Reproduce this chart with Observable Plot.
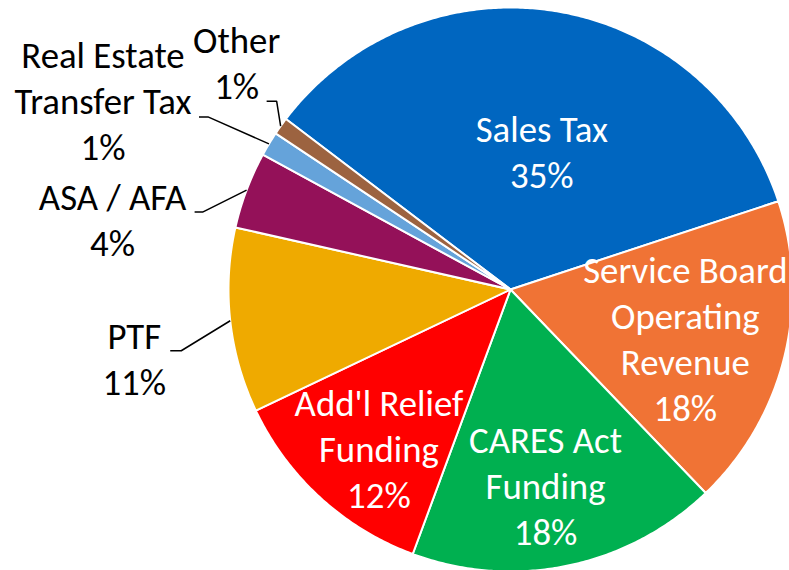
<!DOCTYPE html>
<html>
<head>
<meta charset="utf-8">
<script src="https://cdn.jsdelivr.net/npm/d3@7"></script>
<script src="https://cdn.jsdelivr.net/npm/@observablehq/plot@0.6"></script>
<style>
  html, body { margin: 0; padding: 0; background: #fff; }
  #chart { width: 789px; height: 570px; overflow: hidden; }
</style>
</head>
<body>
<div id="chart"></div>
<script>
// ---- data ----
const names = ["Sales Tax", "Service Board\nOperating\nRevenue", "CARES Act\nFunding", "Add'l Relief\nFunding", "PTF", "ASA / AFA", "Real Estate\nTransfer Tax", "Other"];
const shares = [34.6, 17.9, 17.8, 12.3, 10.6, 4.4, 1.4, 1.0];
const colors = ["#0066C0", "#F07335", "#00B050", "#FF0000", "#EFAA00", "#941159", "#65A3DA", "#9C6340"];

// ---- layout ----
const W = 789, H = 570, cx = 510, cy = 289, R = 282, startAngle = 307.2;
const FONT = 36.8, LH = 46;
const insideR = [0.495, 0.646, 0.711, 0.738];   // inside label radius fraction
const insideTurn = [3.5, 2.3, 1.7, -3.2];        // inside label angle nudge (deg)
// outside callouts: [label dx, label dy from edge point, leader y offset from label centre, leader start x offset, leader length]
const callout = {
  4: [-96, 37, -7, 36, 11],
  5: [-134, 28, -6, 82, 8],
  6: [-166, -45, 18, 96, 9],
  7: [-44, -65, 40, 30, 10]
};

const rad = a => a * Math.PI / 180;
const pt = (a, r) => [cx + r * Math.sin(rad(a)), cy - r * Math.cos(rad(a))];
const total = d3.sum(shares);
let acc = startAngle;
const slices = names.map((name, i) => {
  const a0 = acc, a1 = acc + shares[i] / total * 360;
  acc = a1;
  return {name, i, a0, a1, mid: (a0 + a1) / 2, pct: Math.round(shares[i] / total * 100)};
});

// slice polygons
const poly = [];
for (const s of slices) {
  poly.push({key: s.name, x: cx, y: cy});
  const n = Math.max(2, Math.ceil((s.a1 - s.a0) / 0.5));
  for (let k = 0; k <= n; k++) {
    const [x, y] = pt(s.a0 + (s.a1 - s.a0) * k / n, R);
    poly.push({key: s.name, x, y});
  }
}

const inside = slices.filter(s => s.i < 4).map(s => {
  const [x, y] = pt(s.mid + insideTurn[s.i], R * insideR[s.i]);
  return {x, y, text: s.name + "\n" + s.pct + "%"};
});

const outside = [], leaders = [];
for (const s of slices.filter(s => s.i >= 4)) {
  const [ex, ey] = pt(s.mid, R);
  const [dx, dy, ly, lx, len] = callout[s.i];
  const lxC = ex + dx, lyC = ey + dy;
  outside.push({x: lxC, y: lyC, text: s.name + "\n" + s.pct + "%"});
  leaders.push({k: s.i, x: lxC + lx, y: lyC + ly});
  leaders.push({k: s.i, x: lxC + lx + len, y: lyC + ly});
  leaders.push({k: s.i, x: ex, y: ey});
}

const chart = Plot.plot({
  width: W, height: H,
  margin: 0,
  x: {domain: [0, W], range: [0, W], axis: null},
  y: {domain: [H, 0], range: [H, 0], axis: null},
  color: {domain: names, range: colors},
  style: {fontFamily: "Carlito, Calibri, Lato, sans-serif", background: "white"},
  marks: [
    Plot.line(poly, {x: "x", y: "y", z: "key", fill: "key", stroke: "white", strokeWidth: 2, curve: "linear-closed"}),
    Plot.line(leaders, {x: "x", y: "y", z: "k", stroke: "black", strokeWidth: 1.5, strokeLinecap: "butt", strokeLinejoin: "miter"}),
    Plot.text(inside, {x: "x", y: "y", dy: -3, text: "text", fill: "white", fontSize: FONT, lineHeight: LH / FONT}),
    Plot.text(outside, {x: "x", y: "y", text: "text", fill: "black", fontSize: FONT, lineHeight: LH / FONT})
  ]
});
document.getElementById("chart").appendChild(chart);
</script>
</body>
</html>
